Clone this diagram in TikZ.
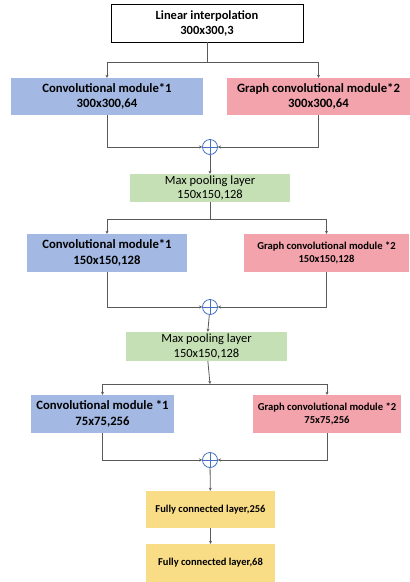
\documentclass[tikz,border=0pt]{standalone}
\usepackage{fontspec}
\setmainfont{Carlito}
\usetikzlibrary{arrows.meta}

\definecolor{convblue}{HTML}{A3B9E3}
\definecolor{gcnpink}{HTML}{F2A3AC}
\definecolor{poolgreen}{HTML}{C5E0B4}
\definecolor{fcyellow}{HTML}{F8DC86}
\definecolor{sumblue}{HTML}{4472C4}
\definecolor{wire}{HTML}{595959}

\tikzset{
  layer/.style = {
    shape = rectangle,
    inner sep = 0pt,
    align = center},
  convbox/.style = {layer, fill = convblue, font = \fontsize{12.7}{15.5}\selectfont\bfseries},
  gcnbox/.style = {layer, fill = gcnpink, font = \fontsize{12.7}{15.5}\selectfont\bfseries},
  poolbox/.style = {layer, fill = poolgreen, font = \fontsize{12.5}{14.5}\selectfont},
  fcbox/.style = {layer, fill = fcyellow, font = \fontsize{10.5}{12}\selectfont\bfseries},
  sumnode/.style = {
    shape = circle,
    draw = sumblue,
    fill = white,
    line width = .8pt,
    minimum size = 15pt,
    inner sep = 0pt,
    path picture = {
      \draw[sumblue, line width = .8pt]
        (path picture bounding box.north) -- (path picture bounding box.south)
        (path picture bounding box.west) -- (path picture bounding box.east);}},
  wireline/.style = {draw = wire, line width = .8pt},
  flow/.style = {wireline, -{Stealth[length=3pt,width=3pt]}}
}

\begin{document}
\begin{tikzpicture}[x=1pt,y=-1pt]
  \useasboundingbox (0,0) rectangle (410,582);

  % input
  \node[layer, draw = black, line width = .8pt, minimum width = 192pt, minimum height = 38pt,
        font = \fontsize{12.5}{15}\selectfont\bfseries] (lin) at (207,23)
        {Linear interpolation\\300x300,3};

  % block 1
  \node[convbox, minimum width = 192pt, minimum height = 37pt] (conva) at (107,96.5)
        {Convolutional module*1\\300x300,64};
  \node[gcnbox, minimum width = 183pt, minimum height = 37pt] (gcna) at (318.5,96.5)
        {Graph convolutional module*2\\300x300,64};
  \node[sumnode] (suma) at (210,147) {};
  \node[poolbox, minimum width = 160pt, minimum height = 28pt] (poola) at (210,188)
        {Max pooling layer\\150x150,128};

  % block 2
  \node[convbox, minimum width = 160pt, minimum height = 38pt] (convb) at (107,253)
        {Convolutional module*1\\150x150,128};
  \node[gcnbox, minimum width = 165pt, minimum height = 38pt,
        font = \fontsize{10.6}{13}\selectfont\bfseries] (gcnb) at (326.5,253)
        {Graph convolutional module *2\\150x150,128};
  \node[sumnode] (sumb) at (210,307) {};
  \node[poolbox, minimum width = 161pt, minimum height = 29pt] (poolb) at (206.5,346.5)
        {Max pooling layer\\150x150,128};

  % block 3
  \node[convbox, minimum width = 143pt, minimum height = 38pt] (convc) at (102.5,414)
        {Convolutional module *1\\75x75,256};
  \node[gcnbox, minimum width = 148pt, minimum height = 38pt,
        font = \fontsize{10.6}{13}\selectfont\bfseries] (gcnc) at (327,414)
        {Graph convolutional module *2\\75x75,256};
  \node[sumnode] (sumc) at (210,460) {};

  % head
  \node[fcbox, minimum width = 129pt, minimum height = 37pt] (fca) at (210.5,509.5)
        {Fully connected layer,256};
  \node[fcbox, minimum width = 129pt, minimum height = 38pt] (fcb) at (210.5,563)
        {Fully connected layer,68};

  % splits
  \coordinate (splita) at (207,62);
  \coordinate (splitb) at (210,219);
  \coordinate (splitc) at (210,384);

  \draw[wireline] (lin) -- (splita);
  \draw[flow] (splita) -| (conva.north);
  \draw[flow] (splita) -| (gcna.north);
  \draw[flow] (conva.south) |- (suma.west);
  \draw[flow] (gcna.south) |- (suma.east);
  \draw[flow] (suma) -- (poola);

  \draw[wireline] (poola) -- (splitb);
  \draw[flow] (splitb) -| (convb.north);
  \draw[flow] (splitb) -| (gcnb.north);
  \draw[flow] (convb.south) |- (sumb.west);
  \draw[flow] (gcnb.south) |- (sumb.east);
  \draw[flow] (sumb) -- (poolb);

  \draw[flow] (poolb) -- (splitc);
  \draw[flow] (splitc) -| (convc.north);
  \draw[flow] (splitc) -| (gcnc.north);
  \draw[flow] (convc.south) |- (sumc.west);
  \draw[flow] (gcnc.south) |- (sumc.east);
  \draw[flow] (sumc) -- (fca);
  \draw[flow] (fca) -- (fcb);
\end{tikzpicture}
\end{document}
